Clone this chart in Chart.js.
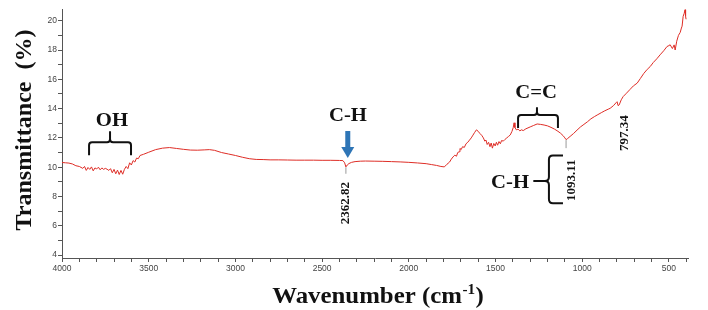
<!DOCTYPE html>
<html><head><meta charset="utf-8">
<script src="https://cdn.jsdelivr.net/npm/chart.js@4.4.1/dist/chart.umd.min.js"></script>
<style>html,body{margin:0;padding:0;background:#fff;}canvas{display:block;}</style>
</head><body>
<canvas id="c" width="708" height="310"></canvas>
<script>
// ---- data ----
const wavenumbers = [
4000,3980,3960,3940,3920,3900,3880,3870,3860,3850,
3840,3830,3820,3810,3800,3790,3780,3770,3760,3750,
3740,3730,3720,3710,3700,3690,3680,3670,3660,3650,
3640,3630,3620,3610,3600,3590,3580,3570,3560,3550,
3530,3500,3460,3420,3380,3340,3300,3260,3220,3180,
3150,3120,3080,3040,3000,2960,2920,2880,2840,2800,
2750,2700,2650,2600,2550,2500,2450,2400,2380,2370,
2363,2355,2345,2330,2310,2280,2250,2200,2150,2100,
2050,2000,1950,1900,1870,1840,1815,1795,1780,1765,
1755,1745,1735,1725,1718,1710,1705,1698,1690,1680,
1670,1660,1650,1640,1630,1620,1610,1600,1590,1580,
1570,1562,1555,1548,1540,1532,1525,1518,1510,1502,
1495,1488,1480,1472,1465,1455,1445,1435,1425,1415,
1405,1398,1393,1388,1380,1370,1360,1350,1340,1325,
1300,1280,1260,1240,1220,1200,1180,1160,1140,1125,
1110,1100,1093,1085,1070,1050,1030,1010,995,970,
950,930,914,890,870,850,839,820,805,799,
793,787,775,764,745,725,705,683,665,645,
625,608,590,570,551,530,511,500,493,480,
470,464,455,445,435,428,424,418,412,407,
404,401];
const transmittance = [
10.32,10.30,10.28,10.22,10.10,10.05,9.92,10.05,9.78,9.98,
9.85,10.02,9.75,9.95,9.88,10.00,9.82,9.95,9.85,9.92,
9.86,9.78,9.90,9.62,9.85,9.55,9.80,9.50,9.78,9.52,
9.85,10.05,9.90,10.30,10.15,10.45,10.35,10.62,10.58,10.80,
10.88,11.02,11.20,11.30,11.34,11.28,11.22,11.17,11.16,11.18,
11.20,11.15,11.00,10.90,10.80,10.68,10.58,10.53,10.52,10.50,
10.50,10.49,10.48,10.48,10.48,10.47,10.47,10.46,10.45,10.30,
10.02,10.15,10.25,10.33,10.38,10.41,10.42,10.41,10.40,10.38,
10.36,10.33,10.29,10.24,10.18,10.12,10.05,10.02,10.20,10.35,
10.55,10.70,10.82,10.75,11.00,11.05,11.28,11.20,11.40,11.35,
11.60,11.70,11.85,12.00,12.19,12.38,12.55,12.45,12.30,12.18,
12.00,11.78,11.85,11.55,11.70,11.40,11.65,11.30,11.62,11.45,
11.70,11.50,11.75,11.60,11.82,11.78,11.90,12.00,12.10,12.20,
12.45,12.70,13.03,12.70,12.55,12.60,12.48,12.55,12.50,12.62,
12.75,12.85,12.95,12.92,12.88,12.82,12.72,12.60,12.45,12.32,
12.15,12.00,11.88,11.95,12.10,12.30,12.53,12.75,12.88,13.10,
13.30,13.45,13.56,13.72,13.85,13.96,14.02,14.20,14.40,14.47,
14.20,14.25,14.60,14.82,15.05,15.30,15.55,15.74,16.05,16.40,
16.68,16.87,17.15,17.40,17.67,17.95,18.24,18.30,18.36,18.10,
18.35,18.00,18.60,19.00,19.20,19.50,19.63,20.30,20.50,20.75,
20.30,20.10];
const xTickLabels = [4000,3500,3000,2500,2000,1500,1000,500];
const yTickLabels = [4,6,8,10,12,14,16,18,20];
const peakLabels = ["2362.82","1093.11","797.34"];
const groupLabels = ["OH","C-H","C=C","C-H"];
const xTitleMain = "Wavenumber (cm", xTitleSup = "-1", xTitleEnd = ")";
const yTitle = "Transmittance  (%)";

// tick mark positions (minor every 100 cm-1 / every 1 %)
const xTickMarks = [];
for (let v = 4000; v >= 400; v -= 100) xTickMarks.push(v);
const yTickMarks = [];
for (let v = 4; v <= 20; v += 1) yTickMarks.push(v);

const SERIF = "'Liberation Serif','Times New Roman',serif";
const tickFont = {family:"'Liberation Sans Narrow','Liberation Sans',Arial,sans-serif", size:8.5};

function boldText(ctx, txt, x, y, size, sx, rot){
  ctx.save();
  ctx.translate(x, y);
  if (rot) ctx.rotate(rot);
  ctx.scale(sx||1, 1);
  ctx.font = "bold " + size + "px " + SERIF;
  ctx.fillStyle = "#111";
  ctx.textAlign = "center";
  ctx.textBaseline = "middle";
  ctx.fillText(txt, 0, 0);
  ctx.restore();
}

const annotate = {
  id: 'annotate',
  afterDraw(chart){
    const ctx = chart.ctx, xs = chart.scales.x, ys = chart.scales.y;
    const X = v => xs.getPixelForValue(v), Y = v => ys.getPixelForValue(v);
    ctx.save();
    // x axis title with superscript
    ctx.save();
    const cx = (chart.chartArea.left + chart.chartArea.right) / 2 + 3;
    const by = 303, sx = 1.08;
    ctx.font = "bold 23px " + SERIF;
    const w1 = ctx.measureText(xTitleMain).width * sx;
    const w3 = ctx.measureText(xTitleEnd).width * sx;
    ctx.font = "bold 14px " + SERIF;
    const w2 = ctx.measureText(xTitleSup).width * sx;
    const x0 = cx - (w1 + w2 + w3 + 1) / 2;
    ctx.fillStyle = "#111"; ctx.textBaseline = "alphabetic"; ctx.textAlign = "left";
    ctx.translate(x0, by); ctx.scale(sx, 1);
    ctx.font = "bold 23px " + SERIF;
    ctx.fillText(xTitleMain, 0, 0);
    ctx.font = "bold 14px " + SERIF;
    ctx.fillText(xTitleSup, (w1 + 0.5) / sx, -9);
    ctx.font = "bold 23px " + SERIF;
    ctx.fillText(xTitleEnd, (w1 + w2 + 1) / sx, 0);
    ctx.restore();
    boldText(ctx, yTitle, 25, 130, 24, 1, -Math.PI/2);

    ctx.strokeStyle = "#111"; ctx.lineWidth = 2; ctx.lineJoin = "round"; ctx.lineCap = "butt";
    function bracket(wl, wr, wm, vTop, vEnd, vTip){
      const x1 = X(wl), x2 = X(wr), xm = X(wm), yt = Y(vTop), ye = Y(vEnd), yp = Y(vTip), r = 3;
      ctx.beginPath();
      ctx.moveTo(x1, ye); ctx.lineTo(x1, yt + r); ctx.quadraticCurveTo(x1, yt, x1 + r, yt);
      ctx.lineTo(xm - r, yt); ctx.quadraticCurveTo(xm, yt, xm, yt - r); ctx.lineTo(xm, yp);
      ctx.moveTo(x2, ye); ctx.lineTo(x2, yt + r); ctx.quadraticCurveTo(x2, yt, x2 - r, yt);
      ctx.lineTo(xm + r, yt); ctx.quadraticCurveTo(xm, yt, xm, yt - r);
      ctx.stroke();
    }
    // OH
    boldText(ctx, groupLabels[0], X(3712), Y(13.15), 18, 1.15);
    bracket(3844, 3602, 3723, 11.71, 10.82, 12.45);
    // C-H arrow (2362)
    boldText(ctx, groupLabels[1], X(2351), Y(13.45), 18, 1.15);
    {
      const ax = X(2352), yt = Y(12.47), yh = Y(11.37), yp = Y(10.62);
      ctx.fillStyle = "rgb(46,117,182)";
      ctx.fillRect(ax - 2.5, yt, 5, yh - yt + 1);
      ctx.beginPath(); ctx.moveTo(ax - 6.5, yh); ctx.lineTo(ax + 6.5, yh); ctx.lineTo(ax, yp); ctx.closePath(); ctx.fill();
    }
    // small gray peak markers
    ctx.save(); ctx.strokeStyle = "#999"; ctx.lineWidth = 1;
    ctx.beginPath();
    ctx.moveTo(X(2362.82), Y(10.0)); ctx.lineTo(X(2362.82), Y(9.55));
    ctx.moveTo(X(1093.11), Y(11.85)); ctx.lineTo(X(1093.11), Y(11.3));
    ctx.stroke(); ctx.restore();
    boldText(ctx, peakLabels[0], X(2362.82), Y(7.55), 13, 1, -Math.PI/2);
    // C=C
    boldText(ctx, groupLabels[2], X(1266), Y(15.07), 18, 1.15);
    bracket(1370, 1140, 1261, 13.56, 12.67, 14.1);
    // lower C-H with brace
    boldText(ctx, groupLabels[3], X(1416), Y(8.9), 18, 1.15);
    {
      const xv = X(1192), xe = X(1111), xl = X(1282), yt = Y(10.8), yb = Y(7.53), ym = Y(9.05), r = 4;
      ctx.beginPath();
      ctx.moveTo(xe, yt); ctx.lineTo(xv + r, yt); ctx.quadraticCurveTo(xv, yt, xv, yt + r);
      ctx.lineTo(xv, ym - r); ctx.quadraticCurveTo(xv, ym, xv - r, ym); ctx.lineTo(xl, ym);
      ctx.moveTo(xv - r, ym); ctx.quadraticCurveTo(xv, ym, xv, ym + r);
      ctx.lineTo(xv, yb - r); ctx.quadraticCurveTo(xv, yb, xv + r, yb); ctx.lineTo(xe, yb);
      ctx.stroke();
    }
    boldText(ctx, peakLabels[1], X(1062), Y(9.11), 13, 1, -Math.PI/2);
    boldText(ctx, peakLabels[2], X(753), Y(12.33), 13, 1, -Math.PI/2);
    ctx.restore();
  }
};

new Chart(document.getElementById('c'), {
  type: 'line',
  data: {
    datasets: [{
      data: wavenumbers.map((w, i) => ({x: w, y: transmittance[i]})),
      borderColor: 'rgb(222,45,38)',
      borderWidth: 1,
      pointRadius: 0,
      tension: 0,
      fill: false
    }]
  },
  options: {
    responsive: false,
    animation: false,
    devicePixelRatio: 1,
    layout: {padding: {left: 0, top: 9, right: 20, bottom: 0}},
    plugins: {legend: {display: false}, tooltip: {enabled: false}},
    scales: {
      x: {
        type: 'linear', reverse: true, min: 390, max: 4000,
        border: {display: true, color: '#555', width: 1},
        grid: {display: true, drawOnChartArea: false, drawTicks: true, tickLength: 4, color: '#555'},
        ticks: {autoSkip: false, maxRotation: 0, minRotation: 0, padding: 2, color: '#444', font: tickFont,
          callback: v => xTickLabels.includes(v) ? String(v) : ''},
        afterBuildTicks: s => { s.ticks = xTickMarks.map(v => ({value: v})); },
        afterFit: s => { s.height = 52; }
      },
      y: {
        min: 3.8, max: 20.8,
        border: {display: true, color: '#555', width: 1},
        grid: {display: true, drawOnChartArea: false, drawTicks: true, tickLength: 4, color: '#555'},
        ticks: {autoSkip: false, padding: 1, color: '#444', font: tickFont,
          callback: v => yTickLabels.includes(v) ? String(v) : ''},
        afterBuildTicks: s => { s.ticks = yTickMarks.map(v => ({value: v})); },
        afterFit: s => { s.width = 62; }
      }
    }
  },
  plugins: [annotate]
});
</script>
</body></html>
